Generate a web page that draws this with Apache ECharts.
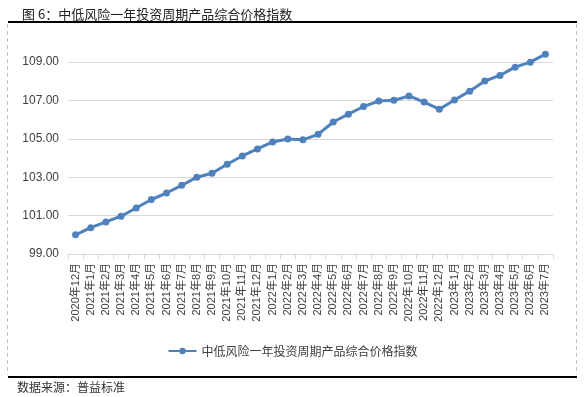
<!DOCTYPE html>
<html>
<head>
<meta charset="utf-8">
<script src="https://cdn.jsdelivr.net/npm/echarts@6/dist/echarts.min.js"></script>
<style>
  html, body { margin: 0; padding: 0; background: #fff; }
  #main { width: 585px; height: 397px; }
</style>
</head>
<body>
<div id="main"></div>
<script>
var myChart = echarts.init(document.getElementById('main'));

const months = ['2020年12月', '2021年1月', '2021年2月', '2021年3月', '2021年4月', '2021年5月', '2021年6月',
    '2021年7月', '2021年8月', '2021年9月', '2021年10月', '2021年11月', '2021年12月', '2022年1月',
    '2022年2月', '2022年3月', '2022年4月', '2022年5月', '2022年6月', '2022年7月', '2022年8月',
    '2022年9月', '2022年10月', '2022年11月', '2022年12月', '2023年1月', '2023年2月', '2023年3月',
    '2023年4月', '2023年5月', '2023年6月', '2023年7月']
const indexValues = [100.00, 100.37, 100.67, 100.97, 101.40, 101.84, 102.18, 102.58, 103.00, 103.21,
    103.68, 104.11, 104.48, 104.84, 105.00, 104.95, 105.24, 105.88, 106.29, 106.69, 106.97,
    107.01, 107.24, 106.92, 106.55, 107.03, 107.49, 108.02, 108.31, 108.74, 109.00, 109.42]
const seriesName = '中低风险一年投资周期产品综合价格指数'
const cjkFont = '"Noto Sans CJK SC", sans-serif'
const numFont = '"Liberation Sans", "Noto Sans CJK SC", sans-serif'

option = {
    animation: false,
    title: {
        text: '图 6：' + seriesName,
        left: 17,
        top: 3,
        textStyle: {
            fontSize: 13,
            fontWeight: 'normal',
            color: '#222',
            fontFamily: cjkFont
        }
    },
    graphic: [
        // 标题下的黑线
        { type: 'line', shape: { x1: 8, y1: 22, x2: 577, y2: 22 }, style: { stroke: '#000', lineWidth: 2 } },
        // 左右虚线边框
        { type: 'line', shape: { x1: 7.5, y1: 24, x2: 7.5, y2: 375 }, style: { stroke: '#bfbfbf', lineWidth: 1, lineDash: [4, 3] } },
        { type: 'line', shape: { x1: 576.5, y1: 24, x2: 576.5, y2: 375 }, style: { stroke: '#bfbfbf', lineWidth: 1, lineDash: [4, 3] } },
        // 底部黑线
        { type: 'line', shape: { x1: 8, y1: 377, x2: 577, y2: 377 }, style: { stroke: '#000', lineWidth: 2 } },
        {
            type: 'text', left: 17, top: 381,
            style: { text: '数据来源：普益标准', fontSize: 12, fill: '#333', fontFamily: cjkFont }
        }
    ],
    legend: {
        data: [seriesName],
        left: 'center',
        top: 340,
        itemWidth: 28,
        itemHeight: 8,
        textStyle: { fontSize: 12, color: '#404040', fontFamily: cjkFont }
    },
    grid: {
        left: 68,
        right: 32,
        top: 43,
        bottom: 143,
        containLabel: false
    },
    xAxis: {
        type: 'category',
        data: months,
        boundaryGap: true,
        axisLine: { lineStyle: { color: '#d9d9d9', width: 1 } },
        axisTick: { show: true, length: 5, lineStyle: { color: '#d9d9d9' } },
        axisLabel: {
            rotate: 90,
            interval: 0,
            margin: 9,
            fontSize: 11,
            color: '#404040',
            fontFamily: numFont
        }
    },
    yAxis: {
        type: 'value',
        min: 99,
        max: 110,
        interval: 2,
        axisLine: { show: false },
        axisTick: { show: false },
        splitLine: { showMaxLine: false, lineStyle: { color: '#d9d9d9', width: 1 } },
        axisLabel: {
            showMaxLabel: false,
            margin: 9,
            fontSize: 12,
            color: '#404040',
            fontFamily: numFont,
            formatter: function (v) { return v.toFixed(2) }
        }
    },
    series: [{
        name: seriesName,
        type: 'line',
        data: indexValues,
        symbol: 'circle',
        symbolSize: 7,
        lineStyle: { color: '#4F81BD', width: 3 },
        itemStyle: { color: '#4F81BD' }
    }]
};

myChart.setOption(option);
</script>
</body>
</html>
